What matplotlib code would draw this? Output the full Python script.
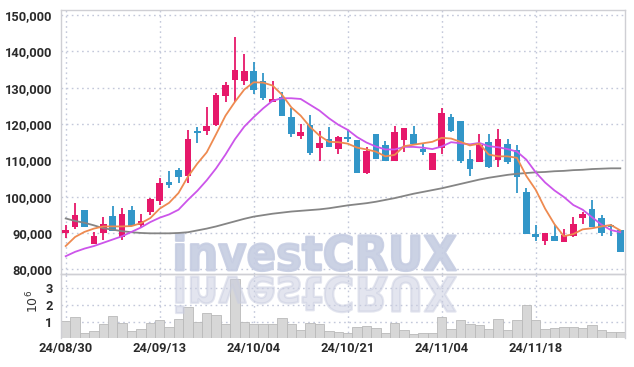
import matplotlib
matplotlib.use("Agg")
import matplotlib.pyplot as plt
from matplotlib.textpath import TextPath
from matplotlib.patches import PathPatch
from matplotlib.font_manager import FontProperties
from matplotlib.transforms import Affine2D, IdentityTransform
from matplotlib.ticker import FuncFormatter, FixedLocator

opens = [90000, 91700, 96300, 86900, 90000, 94600, 88900, 96300, 92100, 95800,
         98800, 104100, 107300, 105700, 118000, 118100, 119700, 127800, 132100, 131800,
         134600, 131800, 126100, 127500, 122000, 116700, 119700, 113400, 115800, 113000,
         116500, 115600, 106600, 117200, 114200, 109900, 115600, 117200, 113000, 107300,
         113300, 121800, 120800, 110500, 109600, 115100, 110200, 114500, 112800, 101300,
         89700, 87800, 89100, 87600, 89100, 94000, 96500, 94000, 92100, 90800]
highs = [92300, 98300, 96300, 90200, 94400, 97400, 97000, 97400, 95200, 99500,
         105000, 107000, 108000, 118300, 119200, 124600, 128600, 131600, 144000, 139200,
         137100, 134100, 131900, 128900, 124300, 120100, 122400, 118100, 119100, 116700,
         118300, 115600, 113700, 117200, 115300, 119400, 118800, 119400, 114500, 112100,
         124300, 122700, 120800, 112800, 117200, 117200, 118600, 116000, 114200, 102300,
         92100, 90100, 92100, 91000, 94400, 95800, 99000, 94900, 92400, 90800]
lows = [88500, 91200, 91700, 86900, 88200, 90600, 88000, 91900, 91300, 94900,
        97700, 102300, 103800, 103800, 114800, 117000, 119400, 126100, 126100, 130700,
        128400, 126600, 126100, 122300, 116500, 115800, 111400, 109900, 113700, 111700,
        115100, 106500, 106200, 110400, 109900, 109900, 112200, 114600, 111400, 107300,
        111700, 117800, 109300, 105700, 109600, 108000, 108200, 109100, 100900, 89600,
        87700, 86600, 87800, 87600, 88900, 92600, 91700, 89100, 89100, 84800]
closes = [90800, 94900, 91700, 89100, 92600, 90600, 95200, 91900, 93300, 99400,
          103700, 103100, 105300, 116000, 117400, 119400, 128000, 130700, 134800, 134600,
          129500, 127200, 126800, 122300, 117200, 117900, 111900, 114900, 113700, 116500,
          115900, 106600, 112500, 110500, 109900, 117800, 118800, 114600, 112300, 112100,
          123100, 118100, 109800, 107600, 114200, 108200, 115800, 109600, 105500, 89600,
          88800, 90100, 87800, 89400, 92600, 95200, 91700, 90000, 91700, 84800]
ma5 = [86400, 88900, 90300, 91200, 91800, 91800, 91800, 91900, 92700, 94100,
       96700, 98300, 101000, 105500, 109100, 112200, 117200, 122300, 126100, 129500,
       131500, 131400, 130600, 128100, 124600, 122300, 119200, 116800, 115100, 115000,
       114600, 113500, 113000, 112400, 111100, 111500, 113900, 114300, 114700, 115100,
       116200, 116000, 115100, 114100, 114600, 111600, 111100, 111100, 110700, 105700,
       101900, 96700, 92400, 89100, 89700, 91000, 91300, 91800, 92200, 90700]
ma10 = [83600, 84800, 85700, 86400, 87300, 88200, 89100, 90300, 91500, 93000,
        94200, 95100, 96400, 99100, 101600, 104500, 107800, 111600, 115800, 119300,
        121900, 124300, 126400, 127100, 127100, 126900, 125300, 123700, 121600, 119800,
        118400, 116400, 114900, 113800, 113000, 113000, 113700, 113700, 113500, 113100,
        113800, 115000, 114700, 114400, 114800, 113900, 113600, 113100, 112400, 110200,
        106700, 103900, 101700, 99900, 97700, 96400, 94300, 92300, 90800, 90200]
ma_long = [94000, 93300, 92800, 92100, 91300, 90900, 90500, 90200, 90000, 89900,
           89900, 89900, 90000, 90200, 90700, 91200, 91800, 92500, 93200, 93900,
           94500, 94900, 95300, 95600, 95900, 96100, 96300, 96500, 96800, 97200,
           97600, 97900, 98200, 98600, 99100, 99600, 100200, 100800, 101300, 101800,
           102300, 102900, 103500, 104100, 104700, 105200, 105600, 106000, 106300, 106500,
           106700, 106800, 107000, 107100, 107300, 107400, 107600, 107700, 107800, 107800]
volumes_m = [1.04, 1.28, 0.30, 0.44, 0.86, 1.34, 0.92, 0.44, 0.56, 0.92,
             1.10, 0.68, 1.16, 1.88, 0.98, 1.52, 1.40, 0.86, 3.54, 0.96,
             0.86, 0.86, 0.86, 1.20, 0.86, 0.48, 0.90, 0.84, 0.44, 0.36,
             0.30, 0.68, 0.74, 0.62, 0.30, 0.90, 0.48, 0.26, 0.30, 0.30,
             1.26, 0.54, 1.08, 0.86, 0.78, 0.54, 1.14, 0.48, 1.08, 1.98,
             1.08, 0.54, 0.60, 0.68, 0.68, 0.60, 0.78, 0.48, 0.36, 0.36]
date_ticks = ['24/08/30', '24/09/13', '24/10/04', '24/10/21', '24/11/04', '24/11/18']
price_ticks = [80000, 90000, 100000, 110000, 120000, 130000, 140000, 150000]
vol_ticks = [1, 2, 3]

UP = '#e6186a'
DOWN = '#3296c8'
GRID = '#c3c8da'
FRAME = '#cfcfd4'
TICK_FP = FontProperties(family=['Roboto', 'Liberation Sans', 'DejaVu Sans'],
                         weight='bold', size=9.3)
TICK_COLOR = '#2a2a2a'

W, H = 634, 367
fig = plt.figure(figsize=(W / 100, H / 100), dpi=100)
fig.patch.set_facecolor('white')

left, right = 61 / W, 625 / W
ax = fig.add_axes([left, 1 - 274 / H, right - left, (274 - 10) / H])
axv = fig.add_axes([left, 1 - 338.3 / H, right - left, (338.3 - 274) / H], sharex=ax)

n = len(closes)
xs = list(range(n))
colors = [UP if c >= o else DOWN for o, c in zip(opens, closes)]
bottoms = [min(o, c) for o, c in zip(opens, closes)]
heights = [max(abs(c - o), 250) for o, c in zip(opens, closes)]

ax.vlines(xs, lows, highs, colors=colors, linewidth=1.3, zorder=3)
ax.bar(xs, heights, bottom=bottoms, width=0.72, color=colors, linewidth=0, zorder=4)
ax.plot(xs, ma_long, color='#858585', linewidth=1.3, zorder=5)
ax.plot(xs, ma10, color='#cc55ea', linewidth=1.3, zorder=5)
ax.plot(xs, ma5, color='#ee8a50', linewidth=1.3, zorder=6)

ax.set_xlim(-0.5, n - 0.5)
ax.set_ylim(78700, 151400)
ax.yaxis.set_major_locator(FixedLocator(price_ticks))
ax.yaxis.set_major_formatter(FuncFormatter(lambda v, p: f'{int(v):,}'))
tick_pos = list(range(0, n, 10))
ax.xaxis.set_major_locator(FixedLocator(tick_pos))
ax.tick_params(axis='x', labelbottom=False, length=0)
ax.tick_params(axis='y', length=0, pad=6)
for lab in ax.get_yticklabels():
    lab.set_fontproperties(TICK_FP)
    lab.set_color(TICK_COLOR)
ax.grid(True, color=GRID, linestyle=(0, (1.2, 2.5)), linewidth=1.0)
ax.set_axisbelow(True)
for s in ax.spines.values():
    s.set_color(FRAME)
    s.set_linewidth(1.0)
ax.set_facecolor('none')

axv.bar(xs, volumes_m, width=1.0, color='#d7d7d7', edgecolor='#b9b9b9', linewidth=0.6, zorder=2)
axv.set_ylim(0, 3.83)
axv.yaxis.set_major_locator(FixedLocator(vol_ticks))
axv.set_xticks(tick_pos)
axv.set_xticklabels(date_ticks)
axv.tick_params(axis='both', length=0)
axv.tick_params(axis='y', pad=6)
axv.tick_params(axis='x', pad=3)
for lab in axv.get_xticklabels() + axv.get_yticklabels():
    lab.set_fontproperties(TICK_FP)
    lab.set_color(TICK_COLOR)
axv.grid(True, color=GRID, linestyle=(0, (1.2, 2.5)), linewidth=1.0)
axv.set_axisbelow(True)
for s in axv.spines.values():
    s.set_color(FRAME)
    s.set_linewidth(1.0)
axv.spines['bottom'].set_visible(False)
axv.set_facecolor('none')

fig.text(33 / W, 1 - 301 / H, r'$10^6$', rotation=90, ha='center', va='center',
         fontsize=9, color='#333333')

# watermark with reflection
tp = TextPath((0, 0), 'investCRUX', size=50,
              prop=FontProperties(family='DejaVu Sans', weight='bold'))
ext = tp.get_extents()
x0, x1 = 176, 456
ytop, ybot = H - 234, H - 271
sx = (x1 - x0) / ext.width
sy = (ytop - ybot) / ext.height
t_main = Affine2D().translate(-ext.x0, -ext.y0).scale(sx, sy).translate(x0, ybot)
path_main = t_main.transform_path(tp)
ax.add_patch(PathPatch(path_main, transform=IdentityTransform(), facecolor='#c6cde2',
                       edgecolor='#c6cde2', linewidth=1.6, joinstyle='round',
                       alpha=0.9, zorder=1, clip_on=False))
t_ref = Affine2D().translate(-ext.x0, -ext.y0).scale(sx, -sy).translate(x0, H - 276)
path_ref = t_ref.transform_path(tp)
axv.add_patch(PathPatch(path_ref, transform=IdentityTransform(), facecolor='#c9cde0',
                        edgecolor='#c9cde0', linewidth=1.6, joinstyle='round',
                        alpha=0.5, zorder=3, clip_on=False))

fig.savefig('out.png', dpi=100, facecolor='white')
